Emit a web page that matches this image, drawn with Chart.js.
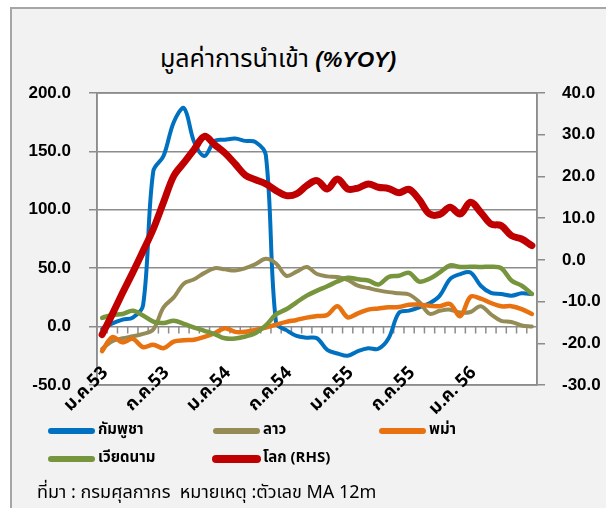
<!DOCTYPE html>
<html>
<head>
<meta charset="utf-8">
<script src="https://cdn.jsdelivr.net/npm/chart.js@4.4.1/dist/chart.umd.min.js"></script>
<style>
html,body{margin:0;padding:0;background:#fff;width:606px;height:508px;overflow:hidden;}
#frame{position:absolute;left:10px;top:7px;width:640px;height:560px;border-left:2px solid #a6a6a6;border-top:2px solid #a6a6a6;background:#f2f2f2;}
#title{position:absolute;left:0;width:556px;top:40px;text-align:center;font-size:25px;font-family:"Noto Sans Thai",Tahoma,"Noto Sans",sans-serif;color:#000;white-space:nowrap;}
#title b{font-family:"Liberation Sans",Arial,sans-serif;font-style:italic;font-weight:bold;font-size:22px;}
#src{position:absolute;left:37px;top:479px;font-size:18px;font-family:"Noto Sans Thai",Tahoma,"Noto Sans",sans-serif;color:#000;white-space:nowrap;}
canvas{position:absolute;left:0;top:0;}
</style>
</head>
<body>
<div id="frame"></div>
<div id="title">มูลค่าการนำเข้า <b>(%YOY)</b></div>
<canvas id="c" width="606" height="508"></canvas>
<div id="src">ที่มา : กรมศุลกากร&nbsp; หมายเหตุ :ตัวเลข MA 12m</div>
<script>
// ---- data ----
const categories = [
  "ม.ค.53","ก.พ.53","มี.ค.53","เม.ย.53","พ.ค.53","มิ.ย.53","ก.ค.53","ส.ค.53","ก.ย.53","ต.ค.53","พ.ย.53","ธ.ค.53",
  "ม.ค.54","ก.พ.54","มี.ค.54","เม.ย.54","พ.ค.54","มิ.ย.54","ก.ค.54","ส.ค.54","ก.ย.54","ต.ค.54","พ.ย.54","ธ.ค.54",
  "ม.ค.55","ก.พ.55","มี.ค.55","เม.ย.55","พ.ค.55","มิ.ย.55","ก.ค.55","ส.ค.55","ก.ย.55","ต.ค.55","พ.ย.55","ธ.ค.55",
  "ม.ค.56","ก.พ.56","มี.ค.56","เม.ย.56","พ.ค.56","มิ.ย.56","ก.ค.56"
];
const xTickLabels = ["ม.ค.53","ก.ค.53","ม.ค.54","ก.ค.54","ม.ค.55","ก.ค.55","ม.ค. 56"];
const leftTicks = [-50, 0, 50, 100, 150, 200];
const rightTicks = [-30, -20, -10, 0, 10, 20, 30, 40];

const cambodia = [-2, 2.8, 6, 7.7, 18, 133, 146, 175, 187, 158, 146, 159, 160, 161, 159, 158, 147, 3, -3, -8, -9.5, -10, -20, -23, -25, -21, -18.5, -19, -10, 11.7, 13.7, 16.5, 19.9, 26.5, 40.7, 45, 46.4, 35, 28.8, 27.9, 26.5, 28.5, 27.9];
const laos = [-19, -12.5, -10, -8.3, -6.3, -2.5, 16.5, 25, 37, 40.5, 46, 50, 49, 48, 50, 53.5, 58, 54, 43.5, 47, 51, 45, 43, 42.5, 40, 35, 33, 31, 29.5, 28.5, 27.5, 21, 11, 13.5, 14.5, 12, 12.5, 17.5, 10.5, 5, 4, 1, 0];
const myanmar = [-21, -9, -13.5, -10.5, -17.5, -15.5, -18.5, -12.8, -11.7, -11.2, -8.8, -5.7, -1.4, -4.5, -4.5, -2.8, -0.8, 1.7, 4, 5.7, 7.7, 9, 10, 17.4, 8, 11.4, 14.5, 15.5, 16.5, 16.8, 18.8, 18.8, 17.9, 17.5, 19.4, 9, 25.6, 24, 20.2, 17.4, 17.5, 15, 10.8];
const vietnam = [7.5, 10, 10.8, 13.5, 9.5, 4.3, 3, 5, 2.3, -0.8, -3.6, -6.5, -10, -10.2, -8.5, -5.5, 1, 10.5, 14.8, 20.8, 26.5, 30.8, 34.5, 38.7, 41.8, 40.5, 39.5, 36, 42.5, 43.6, 46, 38.5, 41, 46.4, 52.3, 51, 51.3, 51, 51.3, 50, 39.5, 35, 28];
const world = [-17.9, -13.0, -7.9, -3.0, 2.1, 7.4, 13.8, 20.1, 23.3, 26.5, 29.6, 27.6, 25.6, 23.0, 20.3, 19.2, 18.2, 16.6, 15.4, 15.8, 17.8, 19.0, 17.0, 19.4, 17.0, 17.2, 18.2, 17.4, 17.1, 16.1, 16.9, 14.4, 11.0, 10.9, 12.6, 11.0, 13.8, 11.4, 8.6, 8.2, 5.8, 5.0, 3.4];

const seriesNames = ["กัมพูชา", "ลาว", "พม่า", "เวียดนาม", "โลก (RHS)"];

// ---- styling ----
const GRID = '#8c8c8c';
const THAI = '"Noto Sans Thai", Tahoma, "Noto Sans", sans-serif';
const NUM = '"Liberation Sans", Arial, sans-serif';

function ds(label, data, color, width, axis, order) {
  return { label, data, borderColor: color, backgroundColor: color, borderWidth: width,
    yAxisID: axis, order, pointRadius: 0, pointHoverRadius: 0, tension: 0.35,
    cubicInterpolationMode: 'default', borderCapStyle: 'round', borderJoinStyle: 'round', fill: false };
}

const framePlugin = {
  id: 'customFrame',
  beforeDraw(chart) {
    const { ctx, chartArea: a } = chart;
    ctx.save();
    ctx.fillStyle = '#ffffff';
    ctx.fillRect(a.left, a.top, a.right - a.left, a.bottom - a.top);
    ctx.restore();
  },
  beforeDatasetsDraw(chart) {
    const { ctx, chartArea: a, scales } = chart;
    const x = scales.x, y = scales.y;
    ctx.save();
    ctx.strokeStyle = GRID;
    ctx.lineWidth = 1.5;
    ctx.strokeRect(a.left, a.top, a.right - a.left, a.bottom - a.top);
    const y0 = y.getPixelForValue(0);
    const step = x.getPixelForValue(1) - x.getPixelForValue(0);
    const start = x.getPixelForValue(0) - step / 2;
    ctx.beginPath();
    for (let k = 1; k < categories.length; k++) {
      const px = start + k * step;
      ctx.moveTo(px, y0);
      ctx.lineTo(px, y0 + 7);
    }
    ctx.stroke();
    ctx.restore();
  },
  afterDraw(chart) {
    const { ctx, chartArea: a, scales } = chart;
    const x = scales.x;
    ctx.save();
    // category labels (every 6th month), rotated like the axis labels
    ctx.fillStyle = '#000';
    ctx.font = 'bold 18px ' + THAI;
    ctx.textAlign = 'right';
    ctx.textBaseline = 'middle';
    xTickLabels.forEach((lab, j) => {
      const px = x.getPixelForValue(j * 6);
      ctx.save();
      ctx.translate(px + 4, a.bottom - 14);
      ctx.rotate(-Math.PI / 4);
      ctx.fillText(lab, 0, 0);
      ctx.restore();
    });
    // legend
    const cols = [51, 216, 382];
    const rows = [431, 459];
    const len = 41;
    const slots = [[0,0],[0,1],[0,2],[1,0],[1,1]];
    chart.data.datasets.forEach((d, i) => {
      const [r, c] = slots[i];
      const x0 = cols[c], yy = rows[r];
      ctx.strokeStyle = d.borderColor;
      ctx.lineWidth = d.borderWidth > 5 ? 8 : 6;
      ctx.lineCap = 'round';
      ctx.beginPath();
      ctx.moveTo(x0, yy);
      ctx.lineTo(x0 + len, yy);
      ctx.stroke();
      ctx.fillStyle = '#000';
      ctx.font = 'bold 15px ' + THAI;
      ctx.textBaseline = 'middle';
      ctx.textAlign = 'left';
      ctx.fillText(d.label, x0 + len + 6, yy);
    });
    ctx.restore();
  }
};

new Chart(document.getElementById('c'), {
  type: 'line',
  data: {
    labels: categories,
    datasets: [
      ds(seriesNames[0], cambodia, '#0070c0', 4, 'y', 5),
      ds(seriesNames[1], laos, '#958b56', 4, 'y', 4),
      ds(seriesNames[2], myanmar, '#e8720f', 4.5, 'y', 3),
      ds(seriesNames[3], vietnam, '#77953d', 4.5, 'y', 2),
      ds(seriesNames[4], world, '#c00000', 7, 'y1', 1)
    ]
  },
  options: {
    responsive: false,
    devicePixelRatio: 1,
    animation: false,
    layout: { padding: { top: 93, left: 0, right: 0, bottom: 0 } },
    plugins: { legend: { display: false }, title: { display: false }, tooltip: { enabled: false } },
    scales: {
      x: {
        type: 'category',
        offset: true,
        grid: { display: false, offset: true, drawTicks: false },
        border: { display: false },
        ticks: { display: false, autoSkip: false },
        afterFit: s => { s.height = 123; }
      },
      y: {
        position: 'left', min: -50, max: 200,
        afterBuildTicks: s => { s.ticks = leftTicks.map(v => ({ value: v })); },
        ticks: { padding: 18, color: '#000', font: { family: NUM, size: 17, weight: 'bold' }, callback: v => Number(v).toFixed(1) },
        grid: { color: GRID, lineWidth: 1.5, tickLength: 8, drawTicks: true },
        border: { display: true, color: GRID, width: 1.5 },
        afterFit: s => { s.width = 97; }
      },
      y1: {
        position: 'right', min: -30, max: 40,
        afterBuildTicks: s => { s.ticks = rightTicks.map(v => ({ value: v })); },
        ticks: { padding: 17, color: '#000', font: { family: NUM, size: 17, weight: 'bold' }, callback: v => Number(v).toFixed(1) },
        grid: { color: GRID, lineWidth: 1.5, tickLength: 8, drawOnChartArea: false, drawTicks: true },
        border: { display: true, color: GRID, width: 1.5 },
        afterFit: s => { s.width = 69; }
      }
    }
  },
  plugins: [framePlugin]
});
</script>
</body>
</html>
